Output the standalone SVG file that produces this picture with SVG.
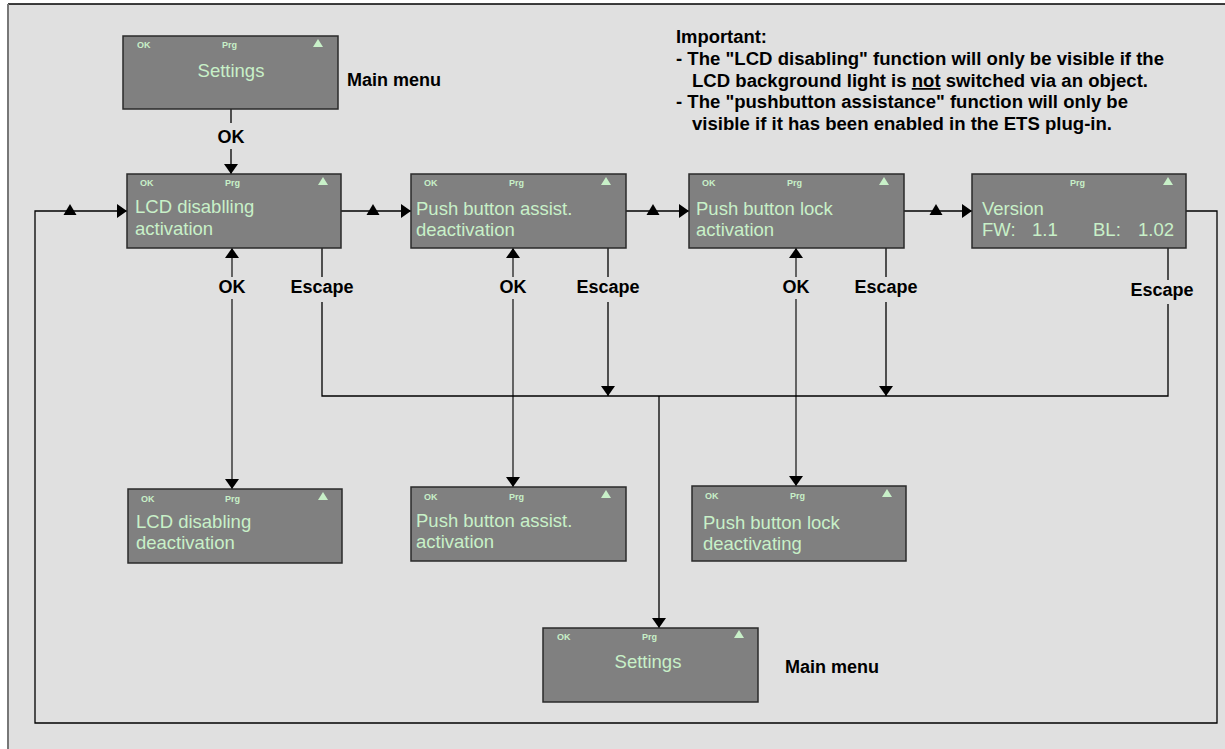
<svg xmlns="http://www.w3.org/2000/svg" width="1225" height="749" viewBox="0 0 1225 749">
<style>
.box{fill:#808080;stroke:#2a2a2a;stroke-width:1.5}
.sm{font-family:"Liberation Sans",Arial,sans-serif;font-size:9px;font-weight:bold;fill:#c8f0c8}
.tx{font-family:"Liberation Sans",Arial,sans-serif;font-size:18.5px;fill:#c8f0c8}
.bt{fill:#c8f0c8}
.lb{font-family:"Liberation Sans",Arial,sans-serif;font-size:18px;font-weight:bold;fill:#000}
.imp{font-family:"Liberation Sans",Arial,sans-serif;font-size:17.5px;font-weight:bold;fill:#000}
.ln{fill:none;stroke:#000;stroke-width:1.3}
.lg{fill:none;stroke:#444;stroke-width:1.6}
</style>
<defs>
<marker id="arr" viewBox="0 0 10 14" refX="10" refY="7" markerWidth="10" markerHeight="14" markerUnits="userSpaceOnUse" orient="auto-start-reverse">
<path d="M0,0 L10,7 L0,14 z" fill="#000"/>
</marker>
<path id="tri" d="M-6.5,5 L6.5,5 L0,-6 z" fill="#000"/>
</defs>
<rect x="0" y="0" width="1225" height="749" fill="#fff"/>
<rect x="8" y="4" width="1230" height="760" fill="#e0e0e0"/>
<line x1="8" y1="4" x2="1225" y2="4" stroke="#000" stroke-width="1.5"/>
<line x1="8" y1="4" x2="8" y2="749" stroke="#777" stroke-width="2"/>

<g id="connectors">
<line class="ln" x1="231" y1="109" x2="231" y2="123"/>
<line class="ln" x1="231" y1="149" x2="231" y2="174" marker-end="url(#arr)"/>
<polyline class="ln" points="1186,211 1217,211 1217,723 35,723 35,211 127,211" marker-end="url(#arr)"/>
<use href="#tri" x="70" y="210"/>
<line class="ln" x1="341" y1="211" x2="411" y2="211" marker-end="url(#arr)"/>
<use href="#tri" x="373" y="210"/>
<line class="ln" x1="626" y1="211" x2="689" y2="211" marker-end="url(#arr)"/>
<use href="#tri" x="653" y="210"/>
<line class="ln" x1="904" y1="211" x2="972" y2="211" marker-end="url(#arr)"/>
<use href="#tri" x="936" y="210"/>
<line class="lg" x1="232" y1="277" x2="232" y2="248" marker-end="url(#arr)"/>
<line class="lg" x1="232" y1="299" x2="232" y2="489" marker-end="url(#arr)"/>
<line class="lg" x1="513" y1="277" x2="513" y2="248" marker-end="url(#arr)"/>
<line class="lg" x1="513" y1="299" x2="513" y2="487" marker-end="url(#arr)"/>
<line class="lg" x1="796" y1="277" x2="796" y2="248" marker-end="url(#arr)"/>
<line class="lg" x1="796" y1="299" x2="796" y2="486" marker-end="url(#arr)"/>
<line class="ln" x1="322" y1="248" x2="322" y2="277"/>
<polyline class="ln" points="322,302 322,396 1168,396 1168,304"/>
<line class="ln" x1="1168" y1="248" x2="1168" y2="280"/>
<line class="ln" x1="608" y1="248" x2="608" y2="277"/>
<line class="ln" x1="608" y1="302" x2="608" y2="396" marker-end="url(#arr)"/>
<line class="ln" x1="886" y1="248" x2="886" y2="277"/>
<line class="ln" x1="886" y1="302" x2="886" y2="396" marker-end="url(#arr)"/>
<line class="ln" x1="659" y1="396" x2="659" y2="628" marker-end="url(#arr)"/>
<text class="lb" x="231" y="143" text-anchor="middle">OK</text>
<text class="lb" x="232" y="293" text-anchor="middle">OK</text>
<text class="lb" x="513" y="293" text-anchor="middle">OK</text>
<text class="lb" x="796" y="293" text-anchor="middle">OK</text>
<text class="lb" x="322" y="293" text-anchor="middle">Escape</text>
<text class="lb" x="608" y="293" text-anchor="middle">Escape</text>
<text class="lb" x="886" y="293" text-anchor="middle">Escape</text>
<text class="lb" x="1162" y="296" text-anchor="middle">Escape</text>
</g>

<g id="settings-top">
<rect class="box" x="123" y="36" width="215" height="73"/>
<text class="sm" x="137" y="48">OK</text>
<text class="sm" x="222" y="48">Prg</text>
<path class="bt" d="M313,47 L323,47 L318,39 z"/>
<text class="tx" x="231" y="77" text-anchor="middle">Settings</text>
</g>
<text id="mainmenu-top" class="lb" x="347" y="86">Main menu</text>

<g id="lcd-act">
<rect class="box" x="127" y="174" width="214" height="74"/>
<text class="sm" x="140" y="186">OK</text>
<text class="sm" x="225" y="186">Prg</text>
<path class="bt" d="M318,185 L328,185 L323,177 z"/>
<text class="tx" x="135" y="213">LCD disablling</text>
<text class="tx" x="135" y="235">activation</text>
</g>

<g id="assist-deact">
<rect class="box" x="411" y="174" width="215" height="74"/>
<text class="sm" x="424" y="186">OK</text>
<text class="sm" x="509" y="186">Prg</text>
<path class="bt" d="M601,185 L611,185 L606,177 z"/>
<text class="tx" x="416" y="215">Push button assist.</text>
<text class="tx" x="416" y="236">deactivation</text>
</g>

<g id="lock-act">
<rect class="box" x="689" y="174" width="215" height="74"/>
<text class="sm" x="702" y="186">OK</text>
<text class="sm" x="787" y="186">Prg</text>
<path class="bt" d="M879,185 L889,185 L884,177 z"/>
<text class="tx" x="696" y="215">Push button lock</text>
<text class="tx" x="696" y="236">activation</text>
</g>

<g id="version">
<rect class="box" x="972" y="174" width="214" height="74"/>
<text class="sm" x="1070" y="186">Prg</text>
<path class="bt" d="M1163,185 L1173,185 L1168,177 z"/>
<text class="tx" x="982" y="215">Version</text>
<text class="tx" x="982" y="236">FW:</text>
<text class="tx" x="1032" y="236">1.1</text>
<text class="tx" x="1093" y="236">BL:</text>
<text class="tx" x="1138" y="236">1.02</text>
</g>

<g id="lcd-deact">
<rect class="box" x="128" y="489" width="214" height="74"/>
<text class="sm" x="141" y="502">OK</text>
<text class="sm" x="225" y="502">Prg</text>
<path class="bt" d="M318,500 L328,500 L323,492 z"/>
<text class="tx" x="136" y="528">LCD disabling</text>
<text class="tx" x="136" y="549">deactivation</text>
</g>

<g id="assist-act">
<rect class="box" x="411" y="487" width="215" height="74"/>
<text class="sm" x="424" y="500">OK</text>
<text class="sm" x="509" y="500">Prg</text>
<path class="bt" d="M601,498 L611,498 L606,490 z"/>
<text class="tx" x="416" y="527">Push button assist.</text>
<text class="tx" x="416" y="548">activation</text>
</g>

<g id="lock-deact">
<rect class="box" x="692" y="486" width="214" height="75"/>
<text class="sm" x="705" y="499">OK</text>
<text class="sm" x="790" y="499">Prg</text>
<path class="bt" d="M882,497 L892,497 L887,489 z"/>
<text class="tx" x="703" y="529">Push button lock</text>
<text class="tx" x="703" y="550">deactivating</text>
</g>

<g id="settings-bottom">
<rect class="box" x="543" y="628" width="215" height="74"/>
<text class="sm" x="557" y="640">OK</text>
<text class="sm" x="642" y="640">Prg</text>
<path class="bt" d="M734,638 L744,638 L739,630 z"/>
<text class="tx" x="648" y="668" text-anchor="middle">Settings</text>
</g>
<text id="mainmenu-bottom" class="lb" x="785" y="673">Main menu</text>

<g id="note">
<text class="imp" x="676" y="43" textLength="91" lengthAdjust="spacingAndGlyphs">Important:</text>
<text class="imp" x="676" y="65" textLength="488" lengthAdjust="spacingAndGlyphs">- The "LCD disabling" function will only be visible if the</text>
<text class="imp" x="692" y="87" textLength="456" lengthAdjust="spacingAndGlyphs">LCD background light is <tspan text-decoration="underline">not</tspan> switched via an object.</text>
<text class="imp" x="676" y="108" textLength="452" lengthAdjust="spacingAndGlyphs">- The "pushbutton assistance" function will only be</text>
<text class="imp" x="692" y="130" textLength="420" lengthAdjust="spacingAndGlyphs">visible if it has been enabled in the ETS plug-in.</text>
</g>
</svg>
